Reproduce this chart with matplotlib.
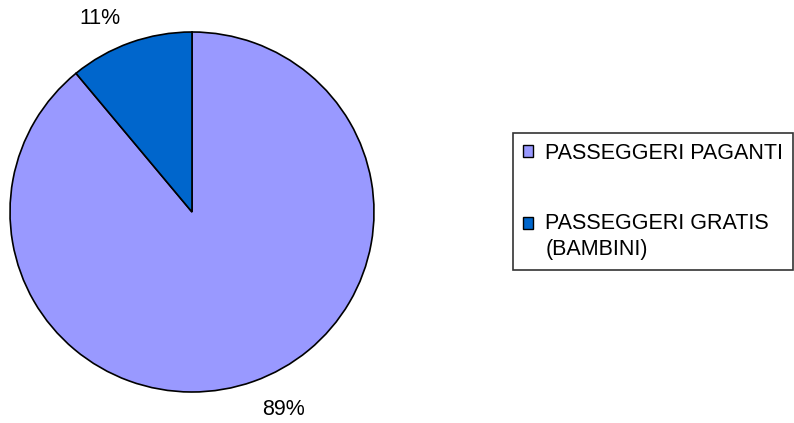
import matplotlib
matplotlib.use("Agg")
import matplotlib.pyplot as plt
from matplotlib.patches import Patch, Rectangle
from matplotlib.legend_handler import HandlerPatch

plt.rcParams['font.family'] = ['Liberation Sans', 'DejaVu Sans']

categorie = ['PASSEGGERI PAGANTI', 'PASSEGGERI GRATIS\n(BAMBINI)']
valori = [89, 11]
colori = ['#9999FF', '#0066CC']

fig = plt.figure(figsize=(7.94, 4.23), dpi=100)
ax = fig.add_axes([10 / 794, 31 / 423, 364 / 794, 360 / 423])

spicchi, _ = ax.pie(valori, colors=colori, startangle=90, counterclock=False,
                    radius=1.0,
                    wedgeprops=dict(edgecolor='black', linewidth=1.2))
ax.set_xlim(-1, 1)
ax.set_ylim(-1, 1)
ax.set_aspect('auto')

# etichette percentuali (posizioni come in Excel)
tot = sum(valori)
pos_etichette = [(0.505, -1.085), (-0.505, 1.09)]
for v, (x, y) in zip(valori, pos_etichette):
    ax.text(x, y, '%d%%' % round(100 * v / tot), ha='center',
            va='center_baseline', fontsize=15.5, clip_on=False)


# il quadratino va allineato alla prima riga dell'etichetta
def quadrato_in_alto(legend, orig_handle, xdescent, ydescent, width, height,
                     fontsize):
    n_righe = getattr(orig_handle, 'n_righe', 1)
    dy = (n_righe - 1) * 0.65 * fontsize
    return Rectangle((-xdescent, -ydescent + dy), width, height)


maniglie = []
for c, lab in zip(colori, categorie):
    p = Patch(facecolor=c, edgecolor='black', linewidth=1.0)
    p.n_righe = lab.count('\n') + 1
    maniglie.append(p)

leg = fig.legend(maniglie, categorie, loc='upper left',
                 bbox_to_anchor=(513 / 794, 1 - 133 / 423),
                 fontsize=15.5, frameon=True, fancybox=False,
                 edgecolor='black', handlelength=0.5, handleheight=0.5,
                 handletextpad=0.55, labelspacing=2.3, borderpad=0.45,
                 borderaxespad=0,
                 handler_map={Patch: HandlerPatch(patch_func=quadrato_in_alto)})
leg.get_frame().set_linewidth(1.2)
for t in leg.get_texts():
    t.set_linespacing(1.3)

fig.savefig('out.png', dpi=100)
